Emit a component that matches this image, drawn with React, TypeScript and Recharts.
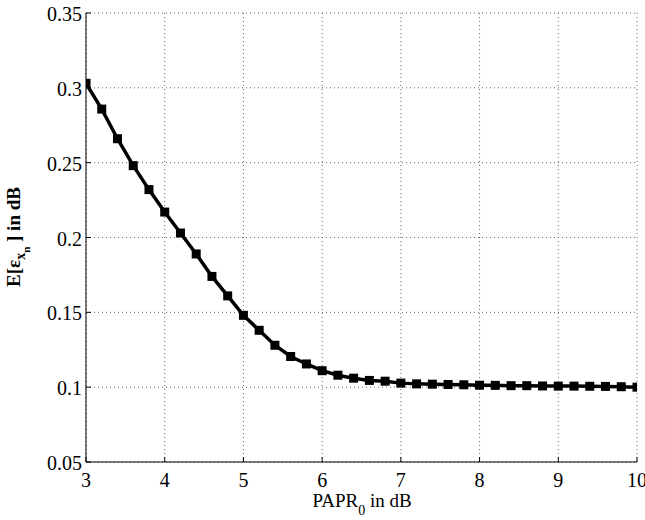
import { LineChart, Line, XAxis, YAxis, CartesianGrid, Label } from 'recharts';

// PAPR threshold in dB and the mean error
const papr = [
  3, 3.2, 3.4, 3.6, 3.8, 4, 4.2, 4.4, 4.6, 4.8, 5, 5.2, 5.4, 5.6, 5.8, 6, 6.2, 6.4,
  6.6, 6.8, 7, 7.2, 7.4, 7.6, 7.8, 8, 8.2, 8.4, 8.6, 8.8, 9, 9.2, 9.4, 9.6, 9.8, 10,
];
const meanErr = [
  0.303, 0.2858, 0.266, 0.248, 0.232, 0.217, 0.203, 0.189, 0.174, 0.161, 0.148, 0.138,
  0.128, 0.1205, 0.1155, 0.111, 0.108, 0.106, 0.1045, 0.104, 0.1027, 0.1022, 0.102,
  0.1018, 0.1016, 0.1013, 0.1012, 0.101, 0.101, 0.1008, 0.1007, 0.1007, 0.1006, 0.1005,
  0.1003, 0.1,
];
const xTicks = [3, 4, 5, 6, 7, 8, 9, 10];
const yTicks = [0.05, 0.1, 0.15, 0.2, 0.25, 0.3, 0.35];

const data = papr.map((p, i) => ({ papr: p, err: meanErr[i] }));

const serif = { fontFamily: "'Liberation Serif', 'Times New Roman', serif" };

// filled square marker
// eslint-disable-next-line @typescript-eslint/no-explicit-any
function SquareDot(props: any) {
  const { cx, cy, index } = props;
  if (cx == null || cy == null) return null;
  return <rect key={`sq-${index}`} x={cx - 4.5} y={cy - 4.5} width={9} height={9} fill="#000" />;
}

// eslint-disable-next-line @typescript-eslint/no-explicit-any
function XTick(props: any) {
  const { x, y, payload } = props;
  return (
    <text x={x} y={y + 30} textAnchor="middle" fontSize={20} style={serif} fill="#000">
      {payload.value}
    </text>
  );
}

// eslint-disable-next-line @typescript-eslint/no-explicit-any
function YTick(props: any) {
  const { x, y, payload } = props;
  return (
    <text x={x - 9} y={y + 8} textAnchor="end" fontSize={20} style={serif} fill="#000">
      {payload.value}
    </text>
  );
}

export default function App() {
  return (
    <div style={{ position: 'absolute', left: 0, top: 0, background: '#fff', ...serif }}>
      <LineChart
        width={645}
        height={520}
        data={data}
        margin={{ top: 13, right: 8, left: 6, bottom: 18 }}
      >
        <CartesianGrid stroke="#666" strokeDasharray="1 3" />
        <XAxis
          dataKey="papr"
          type="number"
          domain={[3, 10]}
          ticks={xTicks}
          height={40}
          tickSize={-5}
          tickMargin={0}
          tick={<XTick />}
          stroke="#000"
          allowDataOverflow
        >
          <Label
            content={() => (
              <text x={362} y={507} textAnchor="middle" fontSize={19} style={serif} fill="#000">
                PAPR
                <tspan fontSize={14} dy={8}>0</tspan>
                <tspan dy={-8}> in dB</tspan>
              </text>
            )}
          />
        </XAxis>
        <XAxis
          xAxisId="top"
          orientation="top"
          type="number"
          domain={[3, 10]}
          ticks={xTicks}
          height={0}
          tickSize={-5}
          tickFormatter={() => ''}
          stroke="#000"
        />
        <YAxis
          type="number"
          domain={[0.05, 0.35]}
          ticks={yTicks}
          width={80}
          tickSize={-5}
          tickMargin={0}
          tick={<YTick />}
          stroke="#000"
          allowDataOverflow
        >
          <Label
            content={() => (
              <text
                x={0}
                y={0}
                transform="translate(20, 237) rotate(-90)"
                textAnchor="middle"
                fontSize={19}
                fontWeight="bold"
                style={serif}
                fill="#000"
              >
                E[ε
                <tspan fontSize={14} dy={5}>x</tspan>
                <tspan fontSize={11} dy={5}>n</tspan>
                <tspan dy={-10}> ] in dB</tspan>
              </text>
            )}
          />
        </YAxis>
        <YAxis
          yAxisId="right"
          orientation="right"
          type="number"
          domain={[0.05, 0.35]}
          ticks={yTicks}
          width={0}
          tickSize={-5}
          tickFormatter={() => ''}
          stroke="#000"
        />
        <Line
          dataKey="err"
          stroke="#000"
          strokeWidth={3.5}
          dot={<SquareDot />}
          isAnimationActive={false}
        />
      </LineChart>
    </div>
  );
}
